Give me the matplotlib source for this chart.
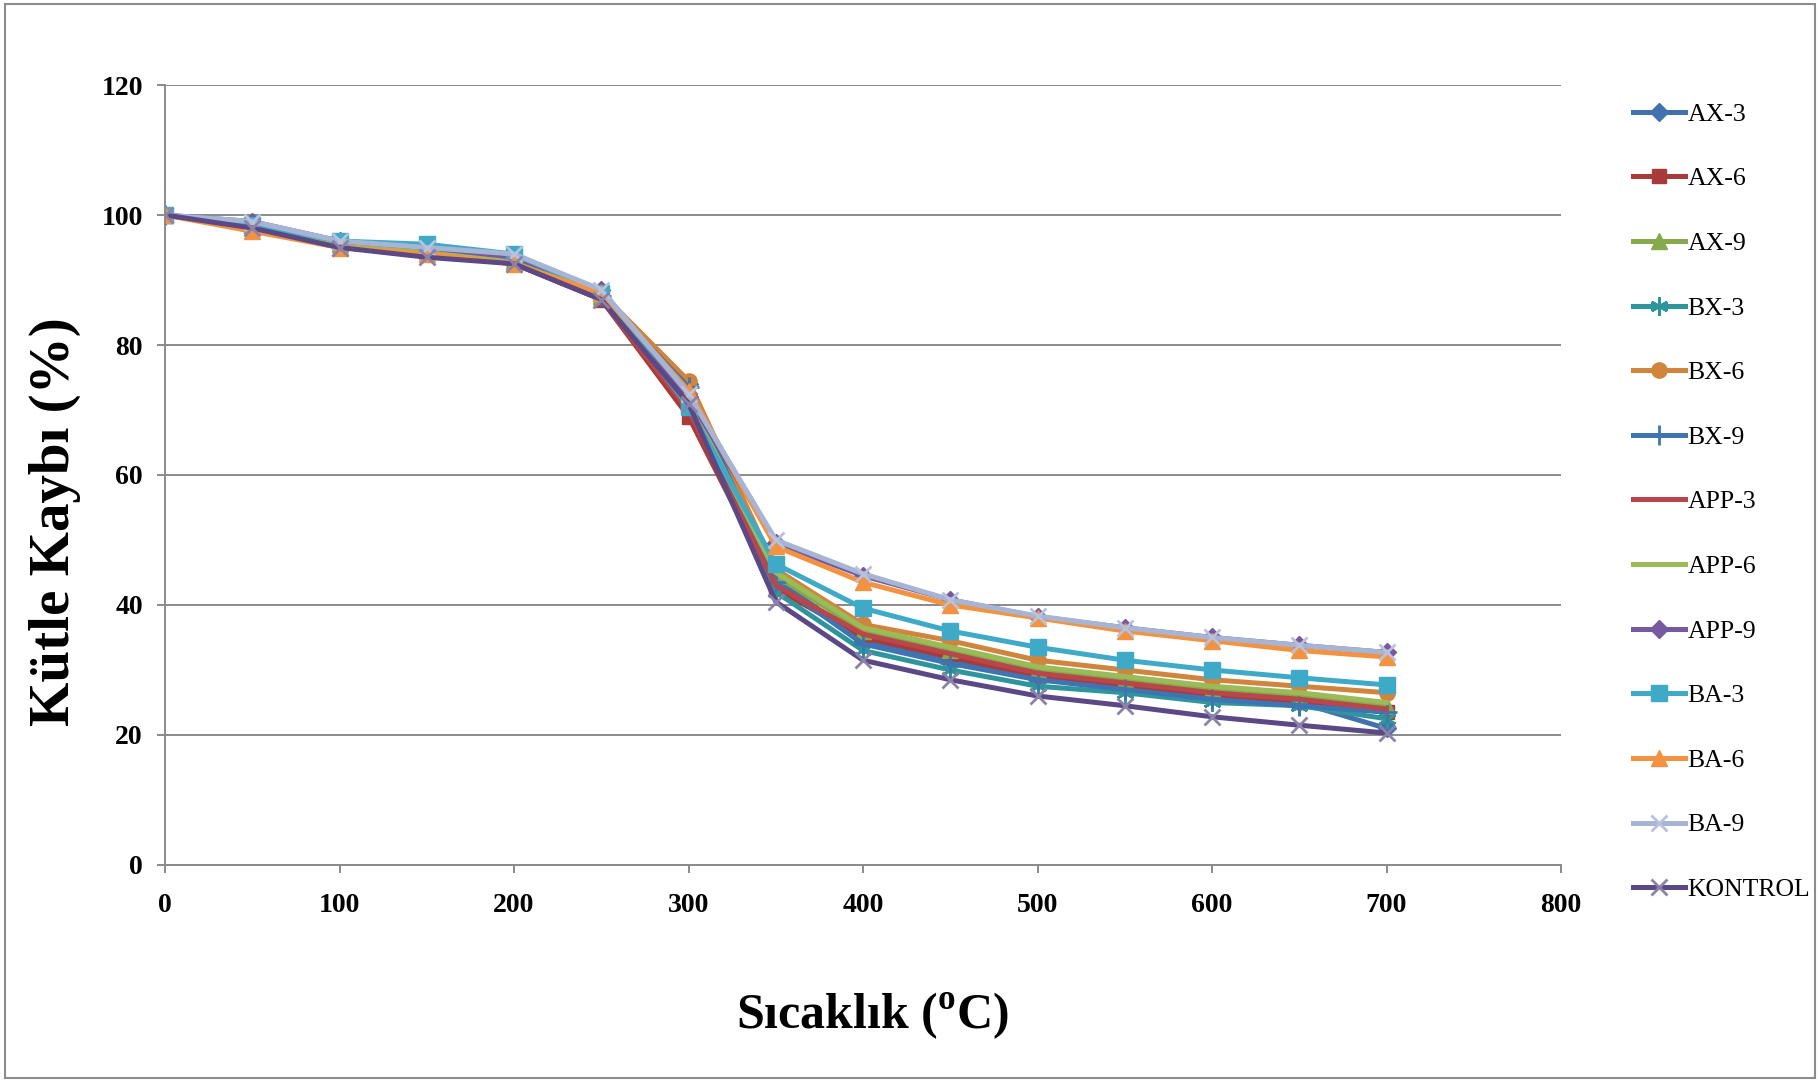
import matplotlib
matplotlib.use("Agg")
import matplotlib.pyplot as plt
from matplotlib.patches import Rectangle

# Temperature steps (°C)
temps = [0, 50, 100, 150, 200, 250, 300, 350, 400, 450, 500, 550, 600, 650, 700]

# Remaining mass (%) for each sample
ax3 = [100, 98.5, 95.5, 94.5, 93.0, 87.5, 74.0, 44.0, 34.5, 31.5, 29.0, 27.5, 26.0, 25.0, 21.0]
ax6 = [100, 98.0, 95.0, 94.0, 92.5, 87.0, 69.0, 42.5, 35.0, 32.0, 29.0, 27.5, 26.0, 25.0, 23.5]
ax9 = [100, 98.5, 95.5, 94.5, 93.0, 87.5, 71.0, 44.5, 36.0, 33.0, 30.0, 28.5, 27.0, 26.0, 24.5]
bx3 = [100, 98.5, 95.5, 94.5, 93.0, 87.5, 72.0, 42.0, 33.0, 30.0, 27.5, 26.5, 25.0, 24.5, 22.5]
bx6 = [100, 98.5, 95.5, 94.5, 93.5, 88.0, 74.5, 45.5, 37.0, 34.5, 31.5, 30.0, 28.5, 27.5, 26.5]
bx9 = [100, 98.5, 95.5, 94.5, 93.0, 87.5, 73.5, 43.5, 34.0, 31.0, 28.5, 27.0, 25.5, 24.5, 23.5]
app3 = [100, 98.5, 95.0, 94.0, 92.5, 87.0, 70.0, 43.0, 35.5, 32.5, 29.5, 28.0, 26.5, 25.5, 24.0]
app6 = [100, 98.5, 95.5, 94.5, 93.0, 87.5, 71.5, 45.0, 36.5, 33.5, 30.5, 29.0, 27.5, 26.5, 25.0]
app9 = [100, 99.0, 96.0, 95.0, 93.5, 88.5, 72.0, 49.5, 44.5, 40.8, 38.2, 36.5, 35.0, 33.8, 32.7]
ba3 = [100, 98.5, 96.0, 95.5, 94.0, 88.0, 70.5, 46.3, 39.5, 36.0, 33.5, 31.5, 30.0, 28.8, 27.7]
ba6 = [100, 97.5, 95.0, 94.0, 92.5, 88.0, 73.0, 49.0, 43.5, 40.0, 38.0, 36.0, 34.5, 33.0, 32.0]
ba9 = [100, 99.0, 96.0, 95.0, 94.0, 88.5, 72.5, 50.0, 44.8, 40.8, 38.3, 36.5, 35.0, 33.8, 32.7]
kontrol = [100, 98.0, 95.0, 93.5, 92.5, 87.0, 71.0, 40.5, 31.5, 28.5, 26.0, 24.5, 22.8, 21.5, 20.3]

labels = ["AX-3", "AX-6", "AX-9", "BX-3", "BX-6", "BX-9", "APP-3", "APP-6",
          "APP-9", "BA-3", "BA-6", "BA-9", "KONTROL"]
series = [ax3, ax6, ax9, bx3, bx6, bx9, app3, app6, app9, ba3, ba6, ba9, kontrol]

x_ticks = [0, 100, 200, 300, 400, 500, 600, 700, 800]
y_ticks = [0, 20, 40, 60, 80, 100, 120]

# line colour, marker, marker size, marker edge colour
styles = [
    ("#4272AE", "D", 9, None),
    ("#A83B3A", "s", 10, None),
    ("#86A94B", "^", 11, None),
    ("#2E959C", (6, 2, 0), 13, None),
    ("#D0843C", "o", 11, None),
    ("#3F74B2", "+", 14, None),
    ("#B8464A", None, 0, None),
    ("#9BBB59", None, 0, None),
    ("#7659A0", "D", 9, None),
    ("#3FAAC8", "s", 12, None),
    ("#F39240", "^", 12, None),
    ("#A7B5D5", "x", 12, "#B8C2DC"),
    ("#5B4884", "x", 12, "#8C82A8"),
]

plt.rcParams["font.family"] = ["Liberation Serif", "DejaVu Serif"]
plt.rcParams["mathtext.fontset"] = "custom"
plt.rcParams["mathtext.bf"] = "Liberation Serif:bold"
plt.rcParams["mathtext.rm"] = "Liberation Serif:bold"

fig = plt.figure(figsize=(18.2, 10.82), dpi=100)
fig.patches.append(Rectangle((0.003, 0.004), 0.994, 0.992, transform=fig.transFigure,
                             fill=False, edgecolor="#8C8C8C", linewidth=1.5))

ax = fig.add_axes([0.0907, 0.2006, 0.767, 0.7208])

for vals, lab, (col, mk, ms, mec) in zip(series, labels, styles):
    kw = dict(color=col, linewidth=3.6, label=lab, solid_joinstyle="round")
    if mk is not None:
        kw.update(marker=mk, markersize=ms, markerfacecolor=col,
                  markeredgecolor=mec if mec else col,
                  markeredgewidth=2.0 if mk in ("x", "+", (6, 2, 0)) else 1.0)
    ax.plot(temps, vals, **kw)

ax.set_xlim(0, 800)
ax.set_ylim(0, 120)
ax.set_xticks(x_ticks)
ax.set_yticks(y_ticks)
ax.grid(axis="y", color="#8A8A8A", linewidth=1.4)
ax.set_axisbelow(True)
for s in ("top", "right"):
    ax.spines[s].set_visible(False)
for s in ("left", "bottom"):
    ax.spines[s].set_color("#8A8A8A")
    ax.spines[s].set_linewidth(1.4)
ax.tick_params(axis="both", direction="out", length=6, width=1.4, color="#8A8A8A",
               labelsize=20)
ax.tick_params(axis="x", pad=14)
ax.tick_params(axis="y", pad=10)
for t in ax.get_xticklabels() + ax.get_yticklabels():
    t.set_fontweight("bold")

ax.set_xlabel(r"Sıcaklık ($^{\mathbf{o}}$C)", fontsize=36, fontweight="bold")
ax.xaxis.set_label_coords(0.507, -0.161)
ax.set_ylabel("Kütle Kaybı (%)", fontsize=41, fontweight="bold")
ax.yaxis.set_label_coords(-0.060, 0.44)

fig.legend(loc="upper left", bbox_to_anchor=(0.8975, 0.905), frameon=False,
           fontsize=18.5, handlelength=2.0, handletextpad=0.1, labelspacing=1.62,
           borderaxespad=0, borderpad=0)

fig.savefig("out.png", dpi=100)
